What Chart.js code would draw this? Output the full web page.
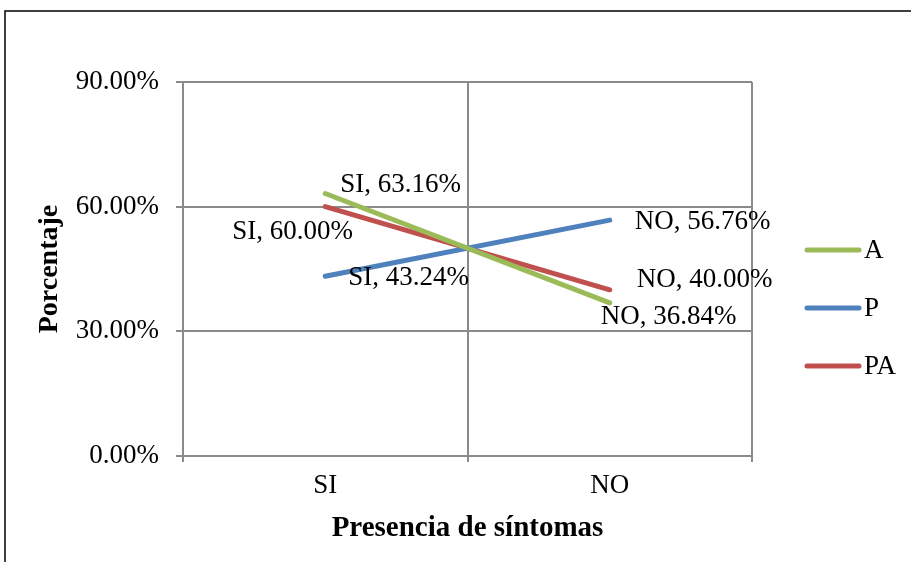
<!DOCTYPE html>
<html>
<head>
<meta charset="utf-8">
<script src="https://cdn.jsdelivr.net/npm/chart.js@4.4.0/dist/chart.umd.min.js"></script>
<style>
  html, body { margin: 0; padding: 0; background: #fff; }
  #wrap { width: 911px; height: 562px; }
</style>
</head>
<body>
<div id="wrap"><canvas id="chart"></canvas></div>
<script>
// Chart data
const categories = ['SI', 'NO'];
const seriesNames = ['A', 'P', 'PA'];
const valuesA = [63.16, 36.84];
const valuesP = [43.24, 56.76];
const valuesPA = [60.00, 40.00];
const yTicks = [0, 30, 60, 90];

const colors = ['#9BBB59', '#4F81BD', '#C0504D'];
const FONT = '"Liberation Serif", serif';

// where each data label sits relative to its point (dx = left edge, dy = middle)
const labelOffsets = [
    [[15, -9], [-9, 14]],     // A
    [[23, 2], [25, 2]],       // P
    [[-93, 25], [27, -10]]    // PA
];

// Draws the outer frame, data labels and the legend on the right
const extrasPlugin = {
    id: 'extras',
    beforeDraw(chart) {
        const ctx = chart.ctx;
        ctx.save();
        ctx.strokeStyle = '#000';
        ctx.lineWidth = 1.5;
        ctx.strokeRect(5, 11, 920, 600);
        ctx.restore();
    },
    afterDatasetsDraw(chart) {
        const ctx = chart.ctx;
        ctx.save();
        ctx.font = '27px ' + FONT;
        ctx.fillStyle = '#000';
        ctx.textBaseline = 'middle';
        ctx.textAlign = 'left';
        chart.data.datasets.forEach((ds, i) => {
            const meta = chart.getDatasetMeta(i);
            meta.data.forEach((pt, j) => {
                const off = labelOffsets[i][j];
                const text = categories[j] + ', ' + ds.data[j].toFixed(2) + '%';
                ctx.fillText(text, pt.x + off[0], pt.y + off[1]);
            });
        });

        // legend
        chart.data.datasets.forEach((ds, i) => {
            const y = 250 + i * 58;
            ctx.strokeStyle = ds.borderColor;
            ctx.lineWidth = 5;
            ctx.lineCap = 'round';
            ctx.beginPath();
            ctx.moveTo(807, y);
            ctx.lineTo(859, y);
            ctx.stroke();
            ctx.fillText(ds.label, 864, y + 1);
        });
        ctx.restore();
    }
};

const datasets = [valuesA, valuesP, valuesPA].map((vals, i) => ({
    label: seriesNames[i],
    data: vals,
    borderColor: colors[i],
    backgroundColor: colors[i],
    borderWidth: 5,
    borderCapStyle: 'round',
    pointRadius: 0,
    tension: 0
}));

const gridColor = '#8a8a8a';

new Chart(document.getElementById('chart'), {
    type: 'line',
    data: { labels: categories, datasets: datasets },
    options: {
        responsive: true,
        maintainAspectRatio: false,
        animation: false,
        layout: { padding: { left: 0, right: 159, top: 82, bottom: 0 } },
        plugins: {
            legend: { display: false },
            tooltip: { enabled: false }
        },
        scales: {
            x: {
                offset: true,
                grid: {
                    offset: true,
                    color: gridColor,
                    lineWidth: 2,
                    tickLength: 6
                },
                border: { color: gridColor, width: 2 },
                ticks: {
                    color: '#000',
                    font: { family: FONT, size: 27 },
                    padding: 8
                },
                title: {
                    display: true,
                    text: 'Presencia de síntomas',
                    color: '#000',
                    font: { family: FONT, size: 29, weight: 'bold' },
                    padding: 16
                },
                afterFit(scale) { scale.height = 106; }
            },
            y: {
                min: 0,
                max: 90,
                afterBuildTicks(scale) {
                    scale.ticks = yTicks.map(v => ({ value: v }));
                },
                grid: {
                    color: gridColor,
                    lineWidth: 2,
                    tickLength: 7
                },
                border: { color: gridColor, width: 2 },
                ticks: {
                    color: '#000',
                    font: { family: FONT, size: 27 },
                    padding: 17,
                    callback: v => v.toFixed(2) + '%'
                },
                title: {
                    display: true,
                    text: 'Porcentaje',
                    color: '#000',
                    font: { family: FONT, size: 28, weight: 'bold' },
                    padding: 33
                },
                afterFit(scale) { scale.width = 183; }
            }
        }
    },
    plugins: [extrasPlugin]
});
</script>
</body>
</html>
